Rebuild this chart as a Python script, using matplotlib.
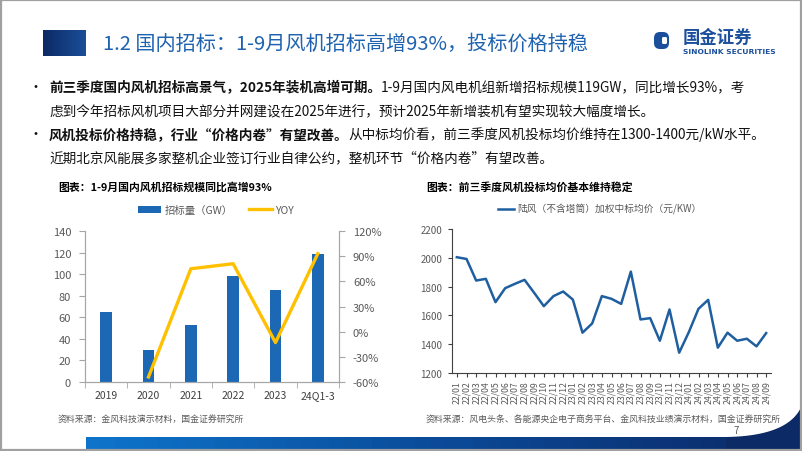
import numpy as np
import matplotlib
matplotlib.use("Agg")
import matplotlib.pyplot as plt
from matplotlib.patches import Rectangle, Polygon, FancyBboxPatch
from matplotlib.colors import LinearSegmentedColormap
from matplotlib.lines import Line2D

plt.rcParams['font.family'] = ['Noto Sans CJK SC', 'DejaVu Sans']

# ---- data ----
years = ['2019', '2020', '2021', '2022', '2023', '24Q1-3']
bid_gw = [65, 30, 53, 98, 85, 119]
yoy = [np.nan, -54, 75, 81, -13, 93]

months = ['22/01', '22/02', '22/03', '22/04', '22/05', '22/06', '22/07', '22/08',
          '22/09', '22/10', '22/11', '22/12', '23/01', '23/02', '23/03', '23/04',
          '23/05', '23/06', '23/07', '23/08', '23/09', '23/10', '23/11', '23/12',
          '24/01', '24/02', '24/03', '24/04', '24/05', '24/06', '24/07', '24/08', '24/09']
price = [2004, 1992, 1842, 1854, 1692, 1789, 1819, 1847, 1757, 1664, 1734, 1766,
         1710, 1480, 1544, 1734, 1715, 1680, 1904, 1572, 1581, 1424, 1641, 1341,
         1484, 1646, 1708, 1376, 1480, 1424, 1438, 1385, 1477]

BLUE = '#1C68B5'
DARK = '#0B2A66'
GRAY = '#595959'

fig = plt.figure(figsize=(8.02, 4.52), dpi=100)

# background axes in pixel coordinates
bg = fig.add_axes([0, 0, 1, 1], zorder=0)
bg.axis('off')

# title block
grad = np.linspace(0, 1, 50).reshape(1, -1)
bg.imshow(grad, extent=(43, 86, 57, 31), aspect='auto',
          cmap=LinearSegmentedColormap.from_list('t', ['#0C2A66', '#1B4E98']))
bg.text(103, 44, '1.2 国内招标：1-9月风机招标高增93%，投标价格持稳', fontsize=14.5,
        color='#1F63B0', va='center', ha='left')

# logo
bg.add_patch(FancyBboxPatch((654, 33), 15, 17, boxstyle='round,pad=0,rounding_size=6',
                            fc='#1B4F9C', ec='none'))
bg.add_patch(FancyBboxPatch((662, 38), 5, 7, boxstyle='round,pad=0,rounding_size=1.5',
                            fc='white', ec='none'))
bg.text(683, 38, '国金证券', fontsize=12.5, fontweight='bold', color='#1B4F9C', va='center')
bg.text(683, 52, 'SINOLINK SECURITIES', fontsize=5.4, fontweight='bold',
        color='#1B4F9C', va='center', family=['DejaVu Sans'])

# bullets
renderer = fig.canvas.get_renderer()


def put_line(y, segs, x0=49):
    x = x0
    for txt, bold in segs:
        t = bg.text(x, y, txt, fontsize=9.8, fontweight='bold' if bold else 'normal',
                    color='#111111', va='center', ha='left')
        x += t.get_window_extent(renderer).width


bg.text(35, 88, '•', fontsize=10, va='center', ha='center', color='#111111')
bg.text(35, 135, '•', fontsize=10, va='center', ha='center', color='#111111')
put_line(88, [('前三季度国内风机招标高景气，2025年装机高增可期。', True),
              ('1-9月国内风电机组新增招标规模119GW，同比增长93%，考', False)])
put_line(112, [('虑到今年招标风机项目大部分并网建设在2025年进行，预计2025年新增装机有望实现较大幅度增长。', False)])
put_line(135, [('风机投标价格持稳，行业“价格内卷”有望改善。', True),
               ('从中标均价看，前三季度风机投标均价维持在1300-1400元/kW水平。', False)])
put_line(158, [('近期北京风能展多家整机企业签订行业自律公约，整机环节“价格内卷”有望改善。', False)])

# chart titles and sources
bg.text(58, 187, '图表：1-9月国内风机招标规模同比高增93%', fontsize=7.8, fontweight='bold', va='center')
bg.text(426, 187, '图表：前三季度风机投标均价基本维持稳定', fontsize=7.8, fontweight='bold', va='center')
bg.text(58, 420, '资料来源：金风科技演示材料，国金证券研究所', fontsize=6.4, color=GRAY, va='center')
bg.text(426, 420, '资料来源：风电头条、各能源央企电子商务平台、金风科技业绩演示材料，国金证券研究所',
        fontsize=6.4, color=GRAY, va='center')
bg.text(736, 431, '7', fontsize=7, color=GRAY, va='center', ha='center')

# bottom bar and swoosh
bg.imshow(grad, extent=(86, 802, 452, 438), aspect='auto',
          cmap=LinearSegmentedColormap.from_list('b', ['#0E74CA', '#0B4A98', DARK]))
t = np.linspace(0, 1, 40)
p0, p1, p2 = np.array([726, 438]), np.array([790, 437]), np.array([802, 406])
curve = [(1 - s) ** 2 * p0 + 2 * (1 - s) * s * p1 + s ** 2 * p2 for s in t]
bg.add_patch(Polygon(curve + [(802, 452), (726, 452)], closed=True, fc=DARK, ec='none'))
bg.add_patch(Rectangle((0.8, 0.8), 800.4, 450.4, fill=False, ec='#A0A0A0', lw=1.6))
bg.set_xlim(0, 802)
bg.set_ylim(452, 0)

# ---- left chart ----
ax = fig.add_axes([85 / 802, 69 / 452, 254 / 802, 151 / 452], zorder=2)
ax.patch.set_alpha(0)
x = np.arange(len(years))
ax.bar(x, bid_gw, width=0.28, color=BLUE, zorder=2)
ax.set_ylim(0, 140)
ax.set_yticks(range(0, 141, 20))
ax.set_xlim(-0.5, len(years) - 0.5)
ax.set_xticks(x)
ax.set_xticklabels(years)
ax.set_xticks(np.arange(-0.5, len(years), 1), minor=True)
ax.tick_params(axis='x', which='major', length=0, pad=6, labelsize=7.5, labelcolor='#404040')
ax.tick_params(axis='x', which='minor', length=4, color='#A6A6A6')
ax.tick_params(axis='y', length=4, color='#A6A6A6', labelsize=8, labelcolor=GRAY, pad=6)
for s in ['left', 'bottom', 'right']:
    ax.spines[s].set_color('#A6A6A6')
ax.spines['top'].set_visible(False)

ax2 = ax.twinx()
ax2.plot(x, yoy, color='#FFC000', lw=2.4, zorder=3)
ax2.set_ylim(-60, 120)
ax2.set_yticks(range(-60, 121, 30))
ax2.set_yticklabels([f'{v}%' for v in range(-60, 121, 30)])
ax2.tick_params(axis='y', length=4, color='#A6A6A6', labelsize=8, labelcolor=GRAY, pad=6)
for s in ['left', 'bottom', 'right']:
    ax2.spines[s].set_color('#A6A6A6')
ax2.spines['top'].set_visible(False)

handles = [Rectangle((0, 0), 1, 1, fc=BLUE), Line2D([], [], color='#FFC000', lw=2.4)]
ax.legend(handles, ['招标量（GW）', 'YOY'], loc='center', bbox_to_anchor=(0.516, 1.14),
          ncol=2, frameon=False, fontsize=7.5, labelcolor=GRAY, handlelength=2.2,
          handleheight=0.6, columnspacing=1.6, handletextpad=0.3)

# ---- right chart ----
ax3 = fig.add_axes([452 / 802, 78 / 452, 319 / 802, 144 / 452], zorder=2)
ax3.patch.set_alpha(0)
xm = np.arange(len(months))
ax3.plot(xm, price, color='#1F5FA0', lw=1.8, label='陆风（不含塔筒）加权中标均价（元/KW）')
ax3.set_ylim(1200, 2200)
ax3.set_yticks(range(1200, 2201, 200))
ax3.set_xlim(-0.5, len(months) - 0.5)
ax3.set_xticks(xm)
ax3.set_xticklabels(months, rotation=90)
ax3.tick_params(axis='x', length=3, color='#404040', labelsize=6.3, labelcolor=GRAY, pad=2)
ax3.tick_params(axis='y', length=3, color='#404040', labelsize=7, labelcolor=GRAY, pad=4)
ax3.spines['top'].set_visible(False)
ax3.spines['right'].set_visible(False)
ax3.spines['left'].set_color('#404040')
ax3.spines['bottom'].set_color('#404040')
ax3.legend(loc='center', bbox_to_anchor=(0.464, 1.139), frameon=False, fontsize=7,
           labelcolor=GRAY, handlelength=1.6, handletextpad=0.4)

fig.savefig('out.png', dpi=100)
